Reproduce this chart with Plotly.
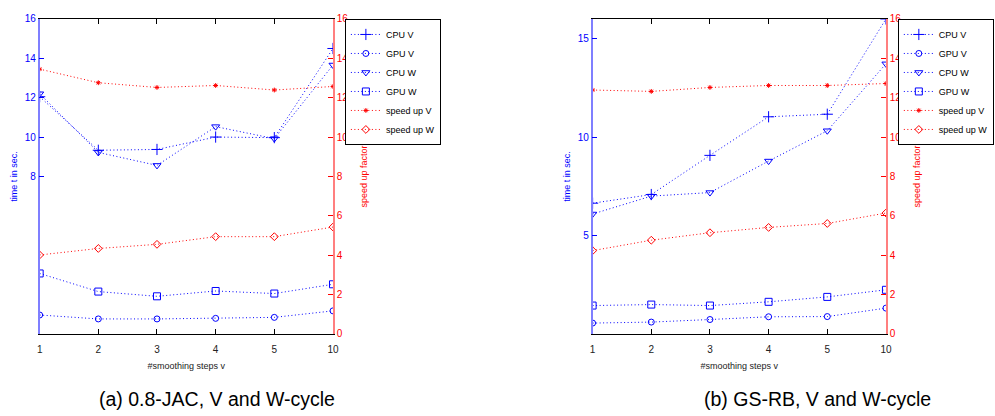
import plotly.graph_objects as go

W, H = 995, 416

steps = ["1", "2", "3", "4", "5", "10"]

# (a) 0.8-JAC
a_cpu_v = [12.05, 9.33, 9.37, 10.0, 9.97, 14.5]
a_gpu_v = [0.96, 0.76, 0.76, 0.79, 0.84, 1.17]
a_cpu_w = [12.2, 9.22, 8.56, 10.53, 9.92, 13.66]
a_gpu_w = [3.07, 2.15, 1.91, 2.18, 2.05, 2.52]
a_speed_v = [13.45, 12.76, 12.52, 12.62, 12.39, 12.57]
a_speed_w = [4.01, 4.34, 4.55, 4.94, 4.94, 5.43]

# (b) GS-RB
b_cpu_v = [6.64, 7.08, 9.07, 11.03, 11.16, 16.0]
b_gpu_v = [0.55, 0.60, 0.73, 0.87, 0.88, 1.31]
b_cpu_w = [6.09, 7.0, 7.18, 8.78, 10.32, 13.72]
b_gpu_w = [1.44, 1.49, 1.44, 1.63, 1.88, 2.24]
b_speed_v = [12.39, 12.32, 12.52, 12.62, 12.62, 12.72]
b_speed_w = [4.23, 4.76, 5.14, 5.41, 5.61, 6.14]

names = ["CPU V", "GPU V", "CPU W", "GPU W", "speed up V", "speed up W"]
BLUE = "#0000ff"
RED = "#ff0000"
FONT = "Liberation Sans, Arial, sans-serif"

styles = [
    dict(color=BLUE, symbol="cross-thin-open", size=8, right=False),
    dict(color=BLUE, symbol="circle-open", size=6, right=False),
    dict(color=BLUE, symbol="triangle-down-open", size=7, right=False),
    dict(color=BLUE, symbol="square-open", size=7, right=False),
    dict(color=RED, symbol="asterisk-open", size=4, right=True),
    dict(color=RED, symbol="diamond-open", size=6, right=True),
]

fig = go.Figure()

def add_panel(series, xa, yl, yr, legend):
    for name, vals, st in zip(names, series, styles):
        fig.add_trace(go.Scatter(
            x=steps, y=vals, name=name, mode="lines+markers",
            xaxis=xa, yaxis=(yr if st["right"] else yl), legend=legend,
            line=dict(color=st["color"], width=1, dash="1px,2.5px"),
            marker=dict(symbol=st["symbol"], size=st["size"], color=st["color"],
                        line=dict(color=st["color"], width=1)),
            cliponaxis=True,
        ))

add_panel([a_cpu_v, a_gpu_v, a_cpu_w, a_gpu_w, a_speed_v, a_speed_w], "x", "y", "y2", "legend")
add_panel([b_cpu_v, b_gpu_v, b_cpu_w, b_gpu_w, b_speed_v, b_speed_w], "x2", "y3", "y4", "legend2")

top = 1 - 14.3 / H
bot = 1 - 337 / H
dom_a = [37 / W, 333 / W]
dom_b = [595 / W, 891 / W]

xcommon = dict(type="category", categoryorder="array", categoryarray=steps,
               range=[0, 5], showline=True, linecolor="#000000", linewidth=1,
               mirror="ticks", ticks="inside", ticklen=5, tickcolor="#000000",
               showgrid=False, zeroline=False, ticklabelstandoff=6,
               tickfont=dict(family=FONT, size=10, color="#222222"),
               title=dict(text="#smoothing steps v", font=dict(family=FONT, size=9, color="#222222"),
                          standoff=8))

ylcommon = dict(range=[0, 16], showline=True, linecolor="#7f7fff", linewidth=1.5,
                ticks="inside", ticklen=5, tickcolor=BLUE, showgrid=False, zeroline=False,
                tickfont=dict(family=FONT, size=10, color=BLUE),
                title=dict(text="time t in sec.", font=dict(family=FONT, size=9, color=BLUE),
                           standoff=6))
yrcommon = dict(range=[0, 16], side="right", showline=True, linecolor="#ff7f7f", linewidth=1.5,
                ticks="inside", ticklen=5, tickcolor=RED, showgrid=False, zeroline=False,
                tickvals=[0, 2, 4, 6, 8, 10, 12, 14, 16],
                tickfont=dict(family=FONT, size=10, color=RED),
                title=dict(text="speed up factor", font=dict(family=FONT, size=9, color=RED),
                           standoff=13))

legcommon = dict(xanchor="left", yanchor="top", bgcolor="white", bordercolor="#000000",
                 borderwidth=1, font=dict(family=FONT, size=9, color="#000000"),
                 tracegroupgap=0, itemwidth=30)

fig.update_layout(
    width=W, height=H, margin=dict(l=0, r=0, t=0, b=0),
    paper_bgcolor="white", plot_bgcolor="white",
    xaxis=dict(domain=dom_a, anchor="y", **xcommon),
    xaxis2=dict(domain=dom_b, anchor="y3", **xcommon),
    yaxis=dict(domain=[bot, top], anchor="x", tickvals=[8, 10, 12, 14, 16], **ylcommon),
    yaxis2=dict(anchor="x", overlaying="y", **yrcommon),
    yaxis3=dict(domain=[bot, top], anchor="x2", tickvals=[5, 10, 15], **ylcommon),
    yaxis4=dict(anchor="x2", overlaying="y3", **yrcommon),
    legend=dict(x=345 / W, y=top, **legcommon),
    legend2=dict(x=903 / W, y=top, **legcommon),
    showlegend=True,
    annotations=[
        dict(text="(a) 0.8-JAC, V and W-cycle", x=216 / W, y=1 - 404 / H, xref="paper", yref="paper",
             showarrow=False, xanchor="center", yanchor="middle",
             font=dict(family=FONT, size=19.5, color="#000000")),
        dict(text="(b) GS-RB, V and W-cycle", x=822 / W, y=1 - 404 / H, xref="paper", yref="paper",
             showarrow=False, xanchor="center", yanchor="middle",
             font=dict(family=FONT, size=19.5, color="#000000")),
    ],
)

fig.write_html("out.html")
